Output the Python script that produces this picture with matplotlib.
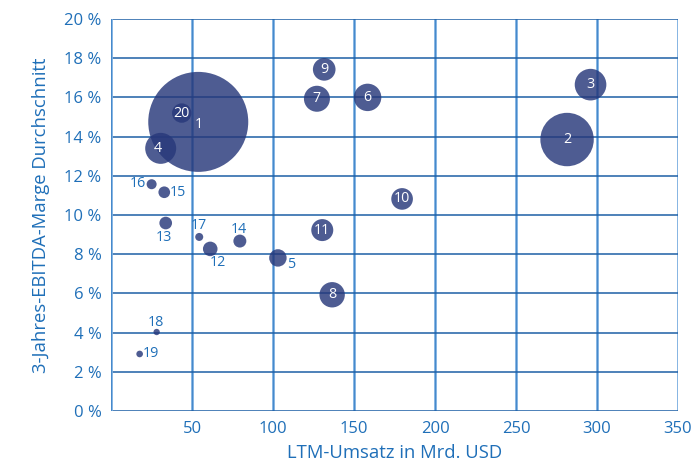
import matplotlib
matplotlib.use("Agg")
import matplotlib.pyplot as plt
import numpy as np

plt.rcParams['font.family'] = ['Open Sans', 'DejaVu Sans']

# data
nummern = [1, 2, 3, 4, 5, 6, 7, 8, 9, 10, 11, 12, 13, 14, 15, 16, 17, 18, 19, 20]
umsatz = [53.7, 281.5, 296.0, 30.5, 102.9, 158.3, 127.0, 136.4, 131.5, 179.6,
          130.3, 61.1, 33.6, 79.4, 32.7, 24.9, 54.3, 28.0, 17.5, 43.5]
marge = [14.75, 13.85, 16.65, 13.4, 7.81, 16.0, 15.93, 5.93, 17.43, 10.82,
         9.23, 8.27, 9.59, 8.67, 11.16, 11.57, 8.88, 4.03, 2.91, 15.2]
groesse = [2500, 713, 250, 240, 76, 188, 169, 161, 128, 117,
           121, 53, 40, 42, 34, 25, 16, 10, 11, 94]
x_ticks = [50, 100, 150, 200, 250, 300, 350]
y_ticks = [0, 2, 4, 6, 8, 10, 12, 14, 16, 18, 20]

# label offsets in points (outside labels in blue, others white inside)
aussen = {5: (9.4, -5), 12: (5.3, -9.9), 13: (-1, -10.3), 14: (-0.5, 8.6),
          15: (9.6, -0.3), 16: (-9.9, 0.7), 17: (0, 8.4), 18: (-0.5, 7), 19: (7.9, 0)}
innen = {1: (0.7, -2.2), 4: (-2, 0)}

blau = '#1f6fb8'
fig = plt.figure(figsize=(6.97, 4.63), dpi=100)
ax = fig.add_axes([0.1597, 0.1123, 0.9727 - 0.1597, 0.959 - 0.1123])
ax.set_xlim(0, 350)
ax.set_ylim(0, 20)

for v in x_ticks:
    ax.axvline(v, color='#7aaee0', lw=2.0, zorder=1)
    ax.axvline(v, color='#3d82c7', lw=0.6, zorder=1)
for v in y_ticks:
    ax.axhline(v, color='#1d5fa6', lw=1.1, zorder=1)
for s in ax.spines.values():
    s.set_visible(False)
ax.axvline(0, color='#7aaee0', lw=2.0, zorder=1)
ax.axvline(0, color='#3d82c7', lw=0.6, zorder=1)

px_to_pt = 72 / 100
order = np.argsort(groesse)[::-1]
for i in order:
    r = np.sqrt(groesse[i])
    s = (2 * r * px_to_pt) ** 2
    ax.scatter(umsatz[i], marge[i], s=s, color='#27387a', alpha=0.82,
               edgecolors='none', zorder=2)

for i, n in enumerate(nummern):
    if n in aussen:
        dx, dy = aussen[n]
        col = blau
    else:
        dx, dy = innen.get(n, (0, 0))
        col = 'white'
    ax.annotate(str(n), (umsatz[i], marge[i]), xytext=(dx, dy),
                textcoords='offset points', ha='center', va='center',
                color=col, fontsize=10.3, zorder=4)

ax.set_xticks(x_ticks)
ax.set_xticklabels([str(v) for v in x_ticks])
ax.set_yticks(y_ticks)
ax.set_yticklabels([f'{v} %' for v in y_ticks])
ax.tick_params(length=0, colors=blau, labelsize=12, pad=7)
ax.set_xlabel('LTM-Umsatz in Mrd. USD', color=blau, fontsize=13.3, labelpad=5)
ax.set_ylabel('3-Jahres-EBITDA-Marge Durchschnitt', color=blau, fontsize=13.3, labelpad=10)

fig.savefig('out.png', dpi=100)
